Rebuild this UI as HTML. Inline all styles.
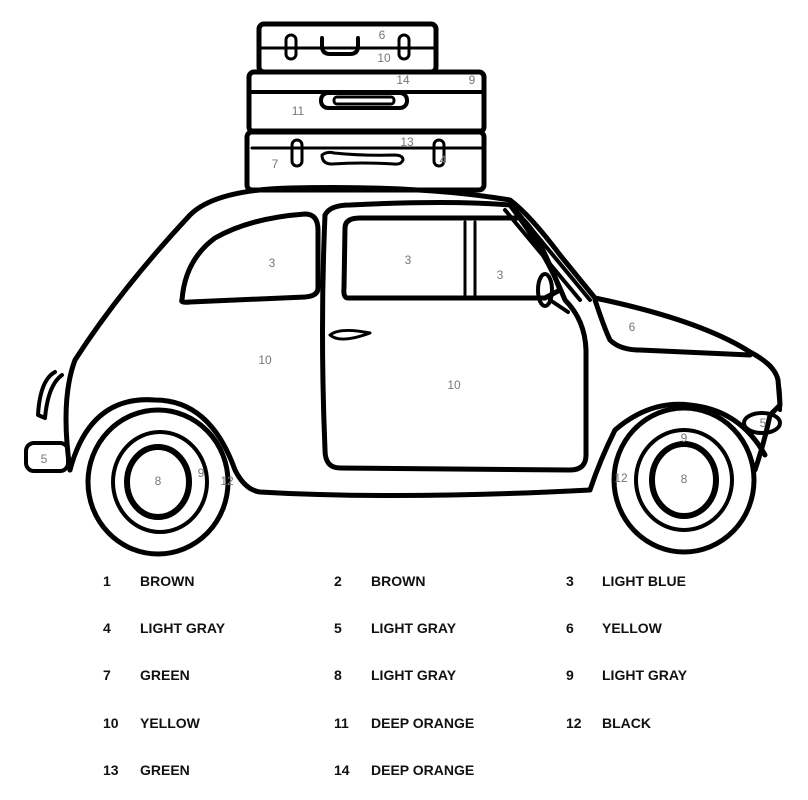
<!DOCTYPE html>
<html><head><style>
html,body{margin:0;padding:0;background:#fff;}
svg{display:block}
.n{font-family:"Liberation Sans",sans-serif;font-size:12px;fill:#777;text-anchor:middle}
.l{font-family:"Liberation Sans",sans-serif;font-size:14px;font-weight:bold;fill:#111}
</style></head><body>
<svg width="808" height="800" viewBox="0 0 808 800" xmlns="http://www.w3.org/2000/svg">
<g fill="none" stroke="#000" stroke-linecap="round" stroke-linejoin="round">
<!-- suitcases -->
<rect x="259" y="24" width="177" height="48" rx="5" stroke-width="5"/>
<line x1="262" y1="48" x2="434" y2="48" stroke-width="3"/>
<rect x="286" y="35" width="10" height="24" rx="5" stroke-width="3"/>
<rect x="399" y="35" width="10" height="24" rx="5" stroke-width="3"/>
<path d="M322 38 v8 q0 8 8 8 h20 q8 0 8 -8 v-8" stroke-width="4"/>
<rect x="249" y="72" width="235" height="60" rx="5" stroke-width="5"/>
<line x1="252" y1="92" x2="482" y2="92" stroke-width="4"/>
<line x1="252" y1="130" x2="482" y2="130" stroke-width="3"/>
<rect x="321" y="93" width="86" height="15" rx="7" stroke-width="4"/>
<rect x="334" y="97" width="60" height="7" rx="3" stroke-width="3"/>
<rect x="247" y="132" width="237" height="58" rx="5" stroke-width="5"/>
<line x1="252" y1="148" x2="482" y2="148" stroke-width="3"/>
<rect x="292" y="140" width="10" height="26" rx="5" stroke-width="3"/>
<rect x="434" y="140" width="10" height="26" rx="5" stroke-width="3"/>
<path d="M322 155 q5 -4 12 -2 q30 3 60 2 q9 0 9 5 q-2 5 -9 4 q-32 -2 -62 0 q-10 0 -10 -9z" stroke-width="3"/>
<!-- car body -->
<path d="M70 470 Q60 400 75 360 Q120 290 190 215 Q215 190 290 188 Q420 185 510 200 Q530 215 560 255 L595 298 Q700 320 750 352 Q775 365 778 380 L780 405 L770 415 Q765 440 755 470" stroke-width="5"/>
<path d="M510 203 L590 300 M505 210 L580 300" stroke-width="4"/>
<path d="M595 300 Q605 330 610 340 Q620 350 640 350 L750 355" stroke-width="5"/>
<path d="M70 470 Q90 395 155 400 Q210 400 235 470 Q245 490 260 492 Q400 500 590 490 Q600 460 615 430 Q650 400 690 405 Q740 410 765 455" stroke-width="5"/>
<!-- rear lights/bumper -->
<path d="M55 372 Q40 380 38 415 L45 418 Q48 385 62 375" stroke-width="4"/>
<rect x="26" y="443" width="42" height="28" rx="8" stroke-width="4"/>
<ellipse cx="762" cy="423" rx="18" ry="10" stroke-width="4"/>
<path d="M766 362 Q782 372 780 410" stroke-width="4"/>
<!-- rear window -->
<path d="M182 300 Q185 260 215 238 Q250 218 305 214 Q318 214 318 230 L318 288 Q318 296 305 297 L190 302 Q180 303 182 300z" stroke-width="5"/>
<!-- door -->
<path d="M325 215 Q330 205 350 205 Q450 200 510 205 Q545 250 565 300 Q585 320 586 350 L586 455 Q586 470 570 470 L340 468 Q325 468 325 450 Q320 330 325 215z" stroke-width="5"/>
<path d="M345 228 Q345 218 360 218 L520 218 Q535 225 560 290 L545 298 L348 298 Q343 298 344 288z" stroke-width="5"/>
<line x1="465" y1="222" x2="465" y2="296" stroke-width="3"/>
<line x1="475" y1="222" x2="475" y2="296" stroke-width="3"/>
<ellipse cx="545" cy="290" rx="7" ry="16" stroke-width="4"/>
<line x1="550" y1="300" x2="568" y2="312" stroke-width="4"/>
<path d="M330 335 Q340 327 370 333 Q340 344 330 335z" stroke-width="3"/>
<!-- wheels -->
<ellipse cx="158" cy="482" rx="70" ry="72" stroke-width="5"/>
<ellipse cx="160" cy="482" rx="47" ry="50" stroke-width="4"/>
<ellipse cx="158" cy="482" rx="31" ry="35" stroke-width="6"/>
<ellipse cx="684" cy="480" rx="70" ry="72" stroke-width="5"/>
<ellipse cx="684" cy="480" rx="48" ry="50" stroke-width="4"/>
<ellipse cx="684" cy="480" rx="32" ry="36" stroke-width="6"/>
</g>
<g class="n">
<text x="382" y="39">6</text><text x="384" y="62">10</text><text x="403" y="84">14</text><text x="472" y="84">9</text>
<text x="298" y="115">11</text><text x="407" y="146">13</text><text x="275" y="168">7</text><text x="443" y="164">4</text>
<text x="272" y="267">3</text><text x="408" y="264">3</text><text x="500" y="279">3</text><text x="632" y="331">6</text>
<text x="265" y="364">10</text><text x="454" y="389">10</text>
<text x="44" y="463">5</text><text x="763" y="427">5</text>
<text x="158" y="485">8</text><text x="201" y="477">9</text><text x="227" y="485">12</text>
<text x="684" y="483">8</text><text x="684" y="442">9</text><text x="621" y="482">12</text>
</g>
<g class="l">
<text x="103" y="586">1</text><text x="140" y="586">BROWN</text><text x="334" y="586">2</text><text x="371" y="586">BROWN</text><text x="566" y="586">3</text><text x="602" y="586">LIGHT BLUE</text>
<text x="103" y="633">4</text><text x="140" y="633">LIGHT GRAY</text><text x="334" y="633">5</text><text x="371" y="633">LIGHT GRAY</text><text x="566" y="633">6</text><text x="602" y="633">YELLOW</text>
<text x="103" y="680">7</text><text x="140" y="680">GREEN</text><text x="334" y="680">8</text><text x="371" y="680">LIGHT GRAY</text><text x="566" y="680">9</text><text x="602" y="680">LIGHT GRAY</text>
<text x="103" y="728">10</text><text x="140" y="728">YELLOW</text><text x="334" y="728">11</text><text x="371" y="728">DEEP ORANGE</text><text x="566" y="728">12</text><text x="602" y="728">BLACK</text>
<text x="103" y="775">13</text><text x="140" y="775">GREEN</text><text x="334" y="775">14</text><text x="371" y="775">DEEP ORANGE</text>
</g>
</svg>
</body></html>
